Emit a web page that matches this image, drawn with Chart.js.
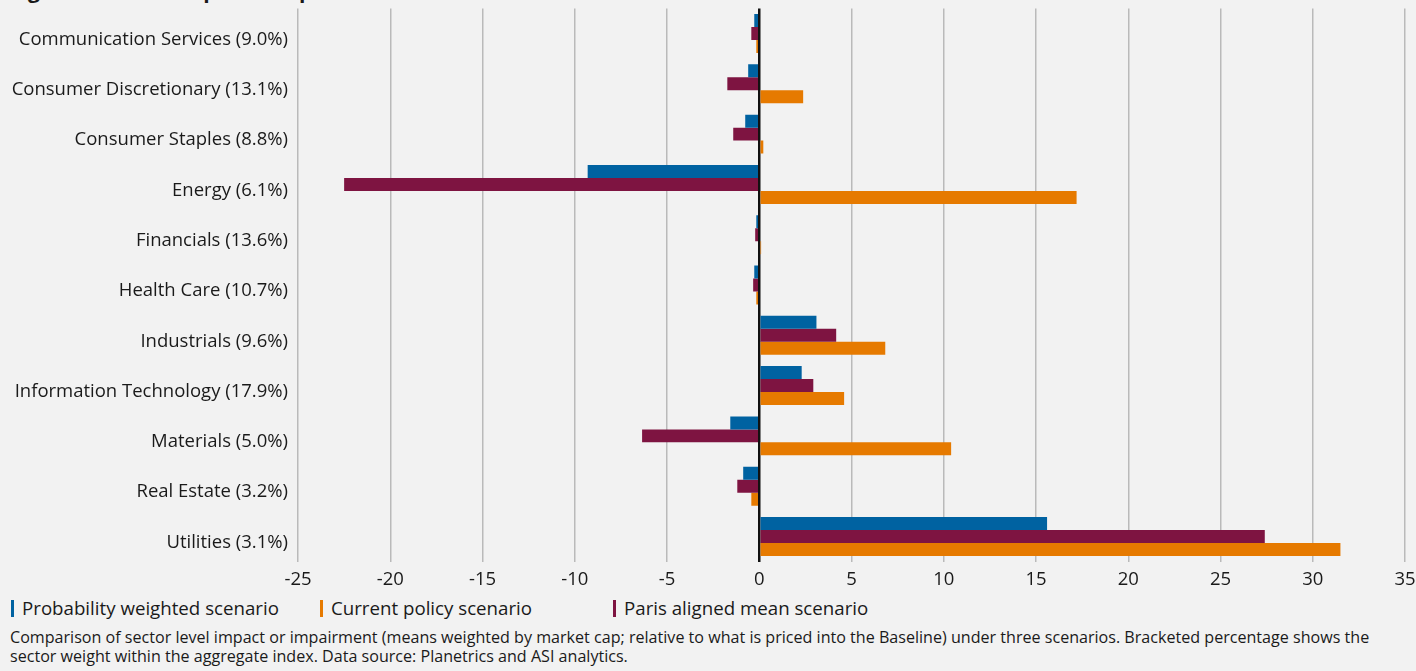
<!DOCTYPE html>
<html>
<head>
<meta charset="utf-8">
<script src="https://cdn.jsdelivr.net/npm/chart.js@4.4.1/dist/chart.umd.min.js"></script>
<style>
  html, body { margin: 0; padding: 0; background: #f2f2f2; }
  body { width: 1416px; height: 671px; position: relative; overflow: hidden; font-family: 'Open Sans', sans-serif; color: #1a1a1a; }
  #title { position: absolute; left: 10px; top: -24px; font-size: 21px; line-height: 28px; font-weight: bold; white-space: nowrap; }
  #wrap { position: absolute; left: 0; top: 0; width: 1416px; height: 592px; }
  #legend { position: absolute; top: 595px; left: 11px; font-size: 18.7px; height: 24px; }
  #legend span.item { position: absolute; top: 0; white-space: nowrap; }
  #legend span.mark { display: inline-block; width: 3px; height: 17px; margin-right: 8px; vertical-align: -2px; }
  #note { position: absolute; top: 628px; left: 10px; width: 1395px; font-size: 16.1px; line-height: 19px; }
</style>
</head>
<body>
<div id="title">Figure 5: Sector impact comparison</div>
<div id="wrap"><canvas id="sector-chart"></canvas></div>
<div id="legend"></div>
<div id="note">Comparison of sector level impact or impairment (means weighted by market cap; relative to what is priced into the Baseline) under three scenarios. Bracketed percentage shows the sector weight within the aggregate index. Data source: Planetrics and ASI analytics.</div>
<script>
// Sector names with their index weight
const sectors = [
    'Communication Services (9.0%)',
    'Consumer Discretionary (13.1%)',
    'Consumer Staples (8.8%)',
    'Energy (6.1%)',
    'Financials (13.6%)',
    'Health Care (10.7%)',
    'Industrials (9.6%)',
    'Information Technology (17.9%)',
    'Materials (5.0%)',
    'Real Estate (3.2%)',
    'Utilities (3.1%)'
];

// Impact per scenario
const probabilityWeighted = [-0.27, -0.6, -0.76, -9.3, -0.16, -0.27, 3.1, 2.3, -1.57, -0.87, 15.6];
const parisAligned = [-0.43, -1.73, -1.41, -22.5, -0.22, -0.33, 4.17, 2.93, -6.35, -1.19, 27.4];
const currentPolicy = [-0.16, 2.38, 0.22, 17.2, 0.1, -0.16, 6.83, 4.6, 10.4, -0.43, 31.5];

const xTicks = { min: -25, max: 35, step: 5 };

const colors = {
    probability: '#0062a1',
    paris: '#7e1441',
    current: '#e67a00'
};

// Legend order differs from the bar order
const legendItems = [
    { label: 'Probability weighted scenario', color: colors.probability, left: 0 },
    { label: 'Current policy scenario', color: colors.current, left: 309 },
    { label: 'Paris aligned mean scenario', color: colors.paris, left: 602 }
];

function buildLegend() {
    const box = document.getElementById('legend');
    legendItems.forEach(item => {
        const span = document.createElement('span');
        span.className = 'item';
        span.style.left = item.left + 'px';
        const mark = document.createElement('span');
        mark.className = 'mark';
        mark.style.background = item.color;
        span.appendChild(mark);
        span.appendChild(document.createTextNode(item.label));
        box.appendChild(span);
    });
}

function setupChart() {
    const ctx = document.getElementById('sector-chart').getContext('2d');
    const font = { family: "'Open Sans', sans-serif", size: 18.5 };

    new Chart(ctx, {
        type: 'bar',
        data: {
            labels: sectors,
            datasets: [
                { label: 'Probability weighted scenario', data: probabilityWeighted, backgroundColor: colors.probability },
                { label: 'Paris aligned mean scenario', data: parisAligned, backgroundColor: colors.paris },
                { label: 'Current policy scenario', data: currentPolicy, backgroundColor: colors.current }
            ]
        },
        options: {
            indexAxis: 'y',
            responsive: true,
            maintainAspectRatio: false,
            animation: false,
            datasets: {
                bar: { categoryPercentage: 0.775, barPercentage: 1.0 }
            },
            layout: { padding: { top: 8.4, right: 11, left: 0, bottom: 0 } },
            plugins: {
                legend: { display: false },
                tooltip: { enabled: false }
            },
            scales: {
                x: {
                    min: xTicks.min,
                    max: xTicks.max,
                    afterFit: scale => {
                        scale.height = 30.4;
                        scale.paddingLeft = 0;
                        scale.paddingRight = 0;
                    },
                    ticks: {
                        stepSize: xTicks.step,
                        color: '#1a1a1a',
                        font: font,
                        padding: 7
                    },
                    grid: {
                        drawTicks: false,
                        color: c => c.tick && c.tick.value === 0 ? '#111111' : '#bababa',
                        lineWidth: c => c.tick && c.tick.value === 0 ? 2.5 : 1.5
                    },
                    border: { display: false }
                },
                y: {
                    afterFit: scale => {
                        scale.width = 298;
                        scale.paddingTop = 0;
                        scale.paddingBottom = 0;
                    },
                    ticks: {
                        color: '#1a1a1a',
                        font: font,
                        padding: 10,
                        labelOffset: 6
                    },
                    grid: { display: false, drawTicks: false },
                    border: { display: false }
                }
            }
        }
    });
}

buildLegend();
setupChart();
</script>
</body>
</html>
